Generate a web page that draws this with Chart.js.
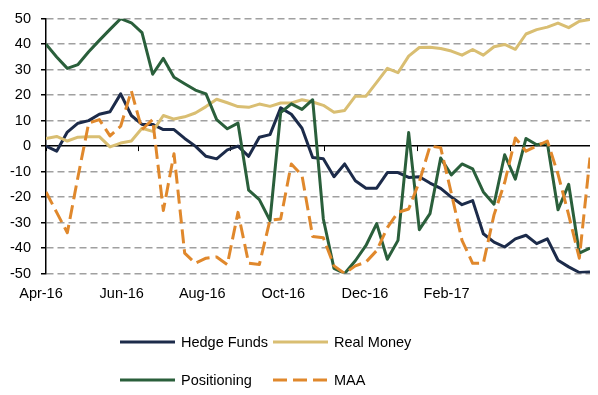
<!DOCTYPE html>
<html>
<head>
<meta charset="utf-8">
<script src="https://cdn.jsdelivr.net/npm/chart.js@4.4.1/dist/chart.umd.min.js"></script>
<style>
  body { margin: 0; background: #fff; }
  #wrap { position: relative; width: 598px; height: 395px; }
  #legend {
    position: absolute; left: 120px; top: 332px;
    display: grid; grid-template-columns: 153px auto;
    grid-auto-rows: 20px; row-gap: 18px;
    font: 14.5px "Liberation Sans", Arial, sans-serif;
    color: #000;
  }
  #legend .item { display: flex; align-items: center; white-space: nowrap; }
  #legend svg { margin-right: 6px; flex-shrink: 0; }
</style>
</head>
<body>
<div id="wrap">
  <canvas id="chart" width="598" height="395"></canvas>
  <div id="legend"></div>
</div>
<script>
// weekly readings, Apr-16 .. Mar-17
const hedgeFunds = [0, -2, 5.5, 9, 10, 12.5, 13.5, 20.5, 12, 8.5,
  8.5, 6.5, 6.5, 3, 0, -4, -5, -1.5, 0, -4,
  3.5, 4.5, 15, 12.5, 7, -4.5, -5, -12, -7, -13.6,
  -16.5, -16.5, -10.4, -10.4, -12.3, -12, -14.5, -16.6, -20, -23,
  -21.4, -34.4, -37.7, -39.6, -36.4, -35, -38.3, -36.4, -44.8, -47.4,
  -49.6, -49.4];
const realMoney = [3, 3.8, 2, 3.5, 3.7, 3.7, -0.3, 1.2, 2, 7,
  5.8, 12, 10.6, 11.5, 13, 15.5, 18.4, 17, 15.5, 15.2,
  16.5, 15.6, 16.9, 16.9, 18.2, 17.3, 16, 13.3, 14, 19.6,
  19.6, 25, 30.5, 28.8, 35.3, 38.7, 38.8, 38.3, 37.3, 35.7,
  37.9, 35.7, 39, 39.9, 38, 44, 45.7, 46.7, 48.3, 46.5,
  49, 49.7];
const positioning = [40, 35, 30.5, 32, 37, 41.5, 45.8, 50, 48.4, 44.5,
  28.2, 34.4, 27, 24.5, 22, 20.5, 10.4, 6.8, 9, -17.3,
  -21, -29.2, 13.2, 16.6, 14.4, 18.2, -28.6, -48, -50, -45,
  -39, -30.4, -44.4, -37, 5.3, -32.8, -26.5, -4.7, -11.3, -7,
  -8.9, -18, -22.8, -3.4, -13, 3, 0.5, 1.2, -25, -15,
  -42, -40];
const maa = [-18, -26, -34, -12, 9, 10.4, 4, 7.8, 21.7, 6.5,
  10.4, -25.3, -3, -42, -46, -44, -43.5, -46.5, -26, -46,
  -46.5, -29, -28.6, -7, -11.5, -35.5, -36, -47, -50, -47,
  -45.5, -41, -32, -26, -24.7, -14, 0, -0.6, -18.5, -37,
  -46, -46, -27, -14.3, 3.2, -2, 0, 2, -11, -27,
  -44, -4.5];

const tickLabels = ['Apr-16', 'Jun-16', 'Aug-16', 'Oct-16', 'Dec-16', 'Feb-17'];
const tickWeeks = [-0.47, 7.1, 14.65, 22.25, 29.9, 37.55];   // where the labels sit
const monthMarks = [0, 8.62, 17.24, 26.05, 34.77, 43.49];    // small ticks on the zero line

const FONT = '"Liberation Sans", Arial, sans-serif';
const FONT_SIZE = 14.5;

const series = [
  { label: 'Hedge Funds', data: hedgeFunds, color: '#1c2b4a', dash: [], order: 3 },
  { label: 'Real Money', data: realMoney, color: '#d9be72', dash: [], order: 2 },
  { label: 'Positioning', data: positioning, color: '#2a5f3b', dash: [], order: 1 },
  { label: 'MAA', data: maa, color: '#e0882c', dash: [14, 6], order: 0 }
];

const zeroTicks = {
  id: 'zeroTicks',
  beforeDatasetsDraw(chart) {
    const { ctx, scales: { x, y } } = chart;
    const y0 = y.getPixelForValue(0);
    ctx.save();
    ctx.strokeStyle = '#000';
    ctx.lineWidth = 1;
    monthMarks.forEach(w => {
      const px = Math.round(x.getPixelForValue(w)) + 0.5;
      ctx.beginPath();
      ctx.moveTo(px, y0);
      ctx.lineTo(px, y0 + 5);
      ctx.stroke();
    });
    ctx.restore();
  }
};

const chart = new Chart(document.getElementById('chart').getContext('2d'), {
  type: 'line',
  data: {
    datasets: series.map(s => ({
      label: s.label,
      data: s.data.map((v, i) => ({ x: i, y: v })),
      borderColor: s.color,
      backgroundColor: s.color,
      borderWidth: 3,
      borderDash: s.dash,
      borderJoinStyle: 'round',
      pointRadius: 0,
      tension: 0,
      order: s.order
    }))
  },
  options: {
    responsive: false,
    animation: false,
    layout: { padding: { left: 0, right: 8, top: 16, bottom: 91.5 } },
    plugins: { legend: { display: false }, tooltip: { enabled: false } },
    scales: {
      x: {
        type: 'linear',
        min: 0,
        max: hedgeFunds.length - 1,
        grid: { display: false, drawTicks: false },
        border: { display: false },
        afterBuildTicks: axis => { axis.ticks = tickWeeks.map(v => ({ value: v })); },
        afterFit: s => { s.height = 30; },
        ticks: {
          autoSkip: false,
          maxRotation: 0,
          padding: 12,
          color: '#000',
          font: { family: FONT, size: FONT_SIZE },
          callback: (v, i) => tickLabels[i]
        }
      },
      y: {
        min: -50,
        max: 50,
        afterFit: s => { s.width = 46; },
        grid: {
          color: c => (c.tick && c.tick.value === 0) ? '#000' : '#a0a0a0',
          lineWidth: 1.5,
          tickColor: '#000',
          tickLength: 5,
          tickWidth: 1.5
        },
        border: {
          display: true,
          color: '#000',
          width: 1.5,
          dash: c => (c.tick && c.tick.value === 0) ? [] : [7, 4]
        },
        ticks: {
          stepSize: 10,
          padding: 10,
          color: '#000',
          font: { family: FONT, size: FONT_SIZE }
        }
      }
    }
  },
  plugins: [zeroTicks]
});

// legend laid out as a 2x2 grid like the original
const legend = document.getElementById('legend');
series.forEach(s => {
  const item = document.createElement('div');
  item.className = 'item';
  const dash = s.dash.length ? ` stroke-dasharray="${s.dash.join(' ')}"` : '';
  item.innerHTML = `<svg width="55" height="6"><line x1="0" y1="3" x2="55" y2="3" stroke="${s.color}" stroke-width="3"${dash}/></svg><span>${s.label}</span>`;
  legend.appendChild(item);
});
</script>
</body>
</html>
